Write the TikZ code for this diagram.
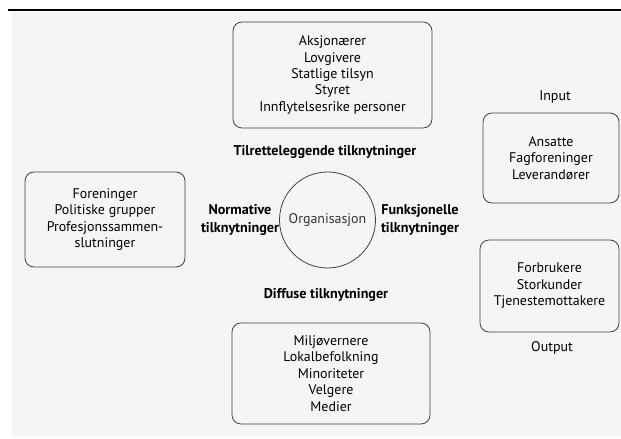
\documentclass[tikz,border=0pt]{standalone}
\usepackage{fontspec}
\setmainfont{PT Sans}
\begin{document}
\begin{tikzpicture}[x=1bp,y=-1bp,
  box/.style={draw=black!75, line width=0.8bp, rounded corners=9bp, align=center, inner sep=0pt,
    font=\fontsize{14}{16.5}\selectfont},
  lbl/.style={align=center, inner sep=0pt, font=\fontsize{14}{16.5}\selectfont},
  blbl/.style={align=center, inner sep=0pt, font=\fontsize{14.2}{18}\selectfont\bfseries},
  org/.style={circle, draw=black!75, line width=0.8bp, inner sep=0pt, minimum size=96bp,
    font=\fontsize{14}{16.5}\selectfont, text=black!80}]
\useasboundingbox (0,0) rectangle (621,439);
\fill[white] (0,0) rectangle (621,439);
\fill[black!4] (12,12) rectangle (621,436);
\draw[line width=2.5bp] (8,10) -- (621,10);

\node[box, minimum width=199bp, minimum height=106bp] (top) at (332.5,75)
  {Aksjonærer\\Lovgivere\\Statlige tilsyn\\Styret\\Innflytelsesrike personer};
\node[box, minimum width=160bp, minimum height=95bp] (left) at (105,219.5)
  {Foreninger\\Politiske grupper\\Profesjonssammen-\\slutninger};
\node[box, minimum width=198bp, minimum height=101bp] (bottom) at (331,373.5)
  {Miljøvernere\\Lokalbefolkning\\Minoriteter\\Velgere\\Medier};
\node[box, minimum width=136bp, minimum height=90bp] (input) at (551,158)
  {Ansatte\\Fagforeninger\\Leverandører};
\node[box, minimum width=139bp, minimum height=92bp] (output) at (549.5,286)
  {Forbrukere\\Storkunder\\Tjenestemottakere};
\node[org] (org) at (327.5,220) {Organisasjon};

\node[blbl] (tl) at (325,152) {Tilretteleggende tilknytninger};
\node[blbl] (nl) at (240,220) {Normative\\tilknytninger};
\node[blbl] (fl) at (420,220) {Funksjonelle\\tilknytninger};
\node[blbl] (dl) at (326,295) {Diffuse tilknytninger};
\node[lbl] (il) at (555,97) {Input};
\node[lbl] (ol) at (552,348) {Output};
\end{tikzpicture}
\end{document}
